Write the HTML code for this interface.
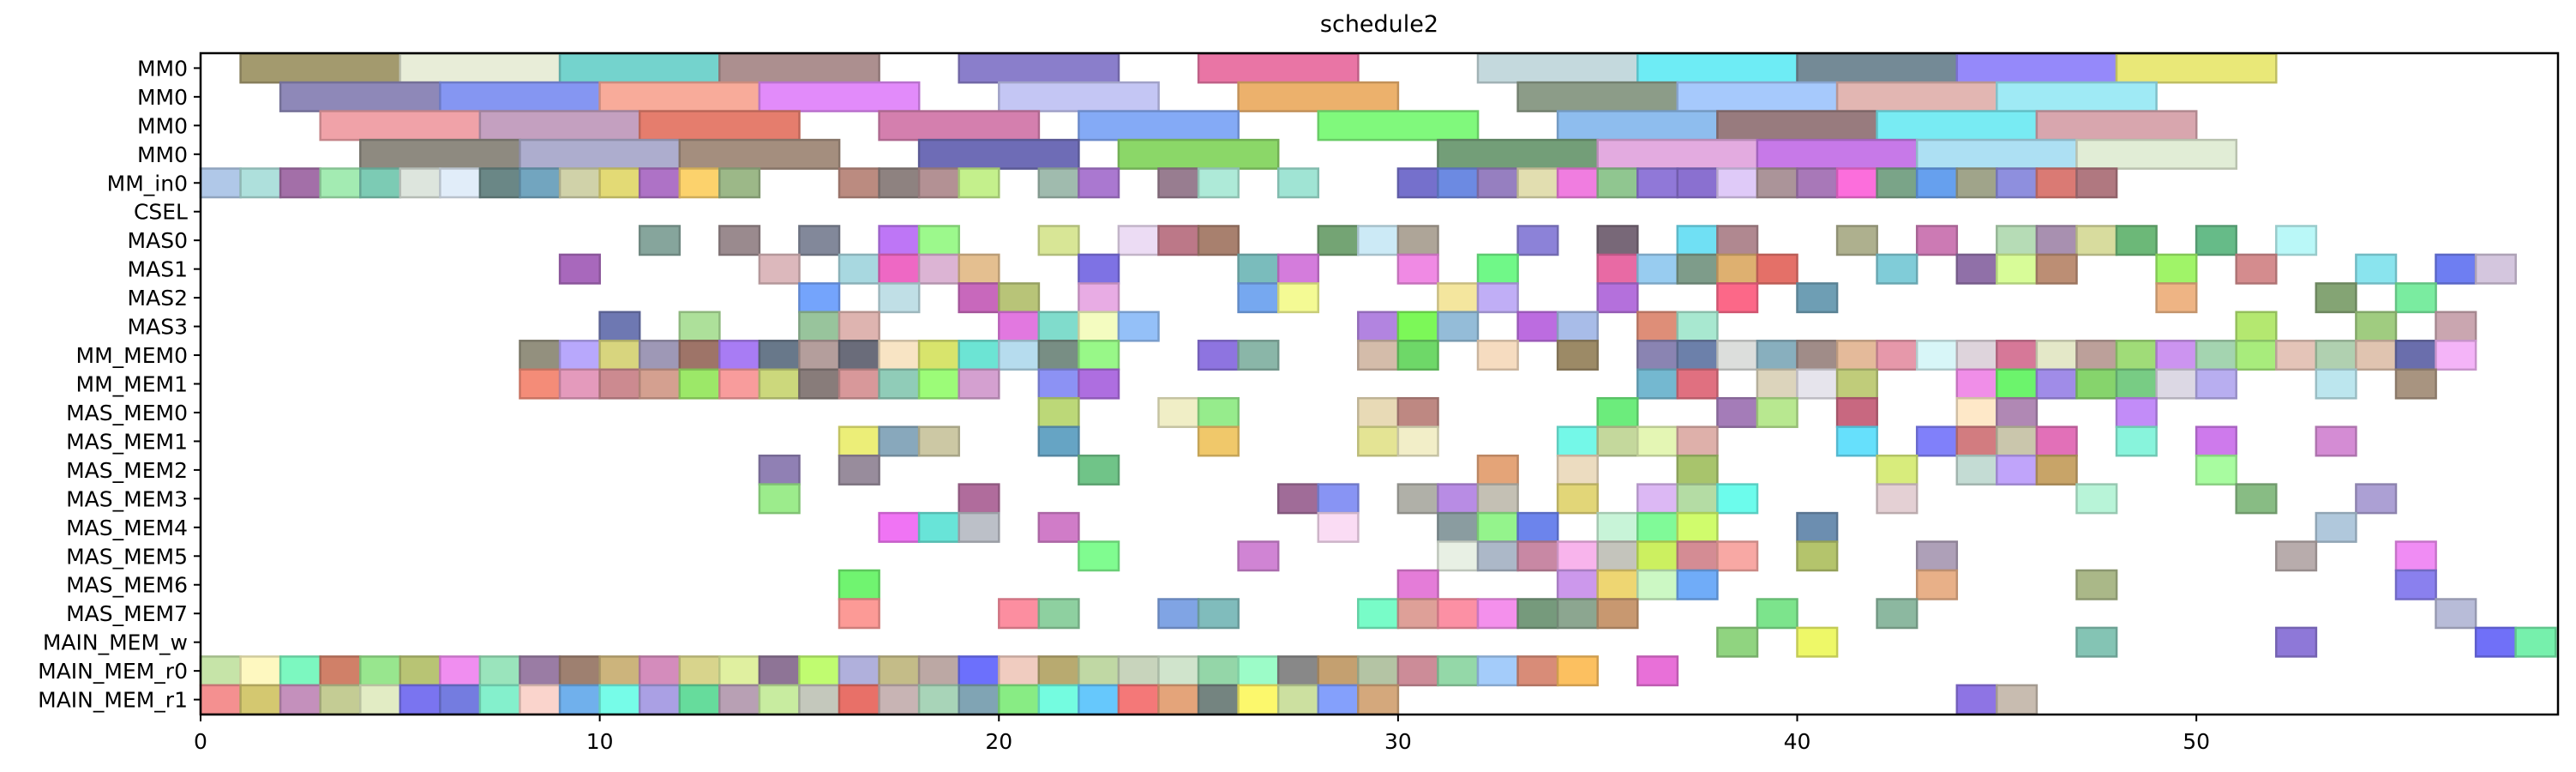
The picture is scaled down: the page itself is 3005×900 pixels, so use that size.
<!DOCTYPE html>
<html><head><meta charset="utf-8"><title>schedule2</title>
<style>html,body{margin:0;padding:0;background:#fff;}svg{display:block;font-family:"DejaVu Sans","Liberation Sans",sans-serif;}</style>
</head><body>
<svg id="chart" width="3005" height="900" viewBox="0 0 3005 900" xmlns="http://www.w3.org/2000/svg">
<text x="1609" y="37" font-size="27" text-anchor="middle">schedule2</text>
<g id="bars"></g>
<g id="axes"></g>
</svg>
<script>
const rowLabels = ["MM0","MM0","MM0","MM0","MM_in0","CSEL","MAS0","MAS1","MAS2","MAS3","MM_MEM0","MM_MEM1","MAS_MEM0","MAS_MEM1","MAS_MEM2","MAS_MEM3","MAS_MEM4","MAS_MEM5","MAS_MEM6","MAS_MEM7","MAIN_MEM_w","MAIN_MEM_r0","MAIN_MEM_r1"];
const xTicks = [0,10,20,30,40,50];
const rowDurations = [4,4,4,4,1,1,1,1,1,1,1,1,1,1,1,1,1,1,1,1,1,1,1];
const row0 = [[1,'#a39a6e'],[5,'#e8edd8'],[9,'#74d3cd'],[13,'#ac8f8f'],[19,'#8a7ecb'],[25,'#e975a5'],[32,'#c4d9dd'],[36,'#6eecf5'],[40,'#748a96'],[44,'#9589fa'],[48,'#e9e878']];
const row1 = [[2,'#8e88b8'],[6,'#8596f2'],[10,'#f8ab9a'],[14,'#e28bfa'],[20,'#c4c6f4'],[26,'#ecb16c'],[33,'#8c9c88'],[37,'#a6c9fc'],[41,'#e2b6b2'],[45,'#9feaf5']];
const row2 = [[3,'#f0a2a8'],[7,'#c4a0c0'],[11,'#e57d6d'],[17,'#d47fae'],[22,'#84aaf6'],[28,'#80f97c'],[34,'#8ebdee'],[38,'#987b7e'],[42,'#78ebf3'],[46,'#d8a6ae']];
const row3 = [[4,'#8e8a80'],[8,'#adadce'],[12,'#a48e7e'],[18,'#6e6cb6'],[23,'#8bd768'],[31,'#739e78'],[35,'#e3abe0'],[39,'#c779e8'],[43,'#ade0f3'],[47,'#e1edd6']];
const row4 = [[0,'#b0c8e8'],[1,'#aee0dc'],[2,'#a36fa8'],[3,'#a3ebb2'],[4,'#7ccbb4'],[5,'#dde5dd'],[6,'#e1edf9'],[7,'#6a8786'],[8,'#72a5bf'],[9,'#d0d2a9'],[10,'#e3da75'],[11,'#ae72c6'],[12,'#fcd26c'],[13,'#9cb888'],[16,'#bb8b80'],[17,'#8e8280'],[18,'#b39194'],[19,'#c4f08c'],[21,'#a0bbae'],[22,'#aa78d0'],[24,'#987d90'],[25,'#aeead8'],[27,'#a0e4d4'],[30,'#7570cc'],[31,'#6c8ae2'],[32,'#967fc0'],[33,'#e2deb0'],[34,'#f07de0'],[35,'#90c690'],[36,'#9078d8'],[37,'#8a70d0'],[38,'#dfcaf8'],[39,'#ab9499'],[40,'#a878b8'],[41,'#fc6edc'],[42,'#7aa488'],[43,'#66a0ee'],[44,'#a0a48a'],[45,'#8e8fde'],[46,'#da7a74'],[47,'#b07880']];
const row5 = [];
const row6 = [[11,'#86a59c'],[13,'#9a8a8e'],[15,'#82889a'],[17,'#be76f6'],[18,'#9cf98c'],[21,'#d8e696'],[23,'#ecdcf4'],[24,'#bc7888'],[25,'#a8806e'],[28,'#74a474'],[29,'#cceaf6'],[30,'#aea598'],[33,'#8c82d8'],[35,'#786878'],[37,'#70e0f4'],[38,'#b08890'],[41,'#aeb08e'],[43,'#cc7ab4'],[45,'#b6dcb6'],[46,'#a890b0'],[47,'#d8dc9e'],[48,'#6cb878'],[50,'#66bb88'],[52,'#baf8f8']];
const row7 = [[9,'#a868bc'],[14,'#dcb8bc'],[16,'#a8d8e0'],[17,'#ee68c4'],[18,'#dcb4d4'],[19,'#e4bf90'],[22,'#7e72e4'],[26,'#7abcbc'],[27,'#d47cdc'],[30,'#f08ae4'],[32,'#70f888'],[35,'#e86aa4'],[36,'#98ccf0'],[37,'#7e9c8a'],[38,'#deb070'],[39,'#e47068'],[42,'#80ccd8'],[44,'#9070a8'],[45,'#d8fc98'],[46,'#bc8e74'],[49,'#a0f468'],[51,'#d48c8e'],[54,'#8ae4ee'],[56,'#6e7ef2'],[57,'#d4c6de']];
const row8 = [[15,'#74a4fc'],[17,'#c0dfe6'],[19,'#c868bc'],[20,'#b8c478'],[22,'#e8ace4'],[26,'#76a8f0'],[27,'#f4fa94'],[31,'#f4e69e'],[32,'#c0aef6'],[35,'#b470dc'],[38,'#fc6888'],[40,'#6e9eb4'],[49,'#eeb484'],[53,'#84a474'],[55,'#7aeca0']];
const row9 = [[10,'#6e78b2'],[12,'#ade09a'],[15,'#98c49c'],[16,'#deb4b0'],[20,'#e278e0'],[21,'#80dccc'],[22,'#f4fcc0'],[23,'#94c0f8'],[29,'#b284e0'],[30,'#7cf858'],[31,'#94bcd8'],[33,'#bc6ce0'],[34,'#a8bce8'],[36,'#de8e78'],[37,'#a8e8d0'],[51,'#b4e870'],[54,'#a0cc80'],[56,'#caa6b0']];
const row10 = [[8,'#93907e'],[9,'#b8a8fc'],[10,'#d8d57e'],[11,'#9e98b6'],[12,'#9e7468'],[13,'#a87cf4'],[14,'#68788a'],[15,'#b49e9c'],[16,'#6a6c7a'],[17,'#f8e4c4'],[18,'#d8e46c'],[19,'#6ce4d4'],[20,'#b6dcee'],[21,'#788e84'],[22,'#98f888'],[25,'#8e74e0'],[26,'#8ab6a8'],[29,'#d4bcaa'],[30,'#6ed868'],[32,'#f6dcc0'],[34,'#9c8a66'],[36,'#8a84b2'],[37,'#6c80aa'],[38,'#dcdedc'],[39,'#88afbe'],[40,'#a08c88'],[41,'#e4ba9a'],[42,'#e698aa'],[43,'#d8f6f8'],[44,'#ded4dc'],[45,'#d67898'],[46,'#e4e8c8'],[47,'#bca09a'],[48,'#a0dc78'],[49,'#cc94f0'],[50,'#a4d4b0'],[51,'#a8ec7c'],[52,'#e4c4b8'],[53,'#b0d0b0'],[54,'#e0c4b0'],[55,'#6a6eac'],[56,'#f4b4f8']];
const row11 = [[8,'#f48c78'],[9,'#e49abc'],[10,'#cc8a90'],[11,'#d4a090'],[12,'#9ce868'],[13,'#f89c9c'],[14,'#ccd87c'],[15,'#887c7a'],[16,'#d8989a'],[17,'#90ccb8'],[18,'#9cfc78'],[19,'#d4a0d0'],[21,'#8c92f4'],[22,'#ae6ee0'],[36,'#74b8d0'],[37,'#e07080'],[39,'#dcd4bc'],[40,'#e6e4ec'],[41,'#c0cc7a'],[44,'#f08ee8'],[45,'#6cf46c'],[46,'#a08ce8'],[47,'#86d46c'],[48,'#78cc84'],[49,'#dcd8e4'],[50,'#b8aef0'],[53,'#bce6ee'],[55,'#a89480']];
const row12 = [[21,'#bcd878'],[24,'#f0eec6'],[25,'#96ec8c'],[29,'#e8dab6'],[30,'#be8882'],[35,'#6cec7c'],[38,'#a47cb8'],[39,'#b8e890'],[41,'#c86880'],[44,'#fee8c8'],[45,'#b088b4'],[48,'#c28cf8']];
const row13 = [[16,'#ecee78'],[17,'#88a8bc'],[18,'#ccc8a4'],[21,'#66a4c4'],[25,'#f0c86a'],[29,'#e4e494'],[30,'#f2eec8'],[34,'#74f8e8'],[35,'#c4d89c'],[36,'#e4f6b4'],[37,'#deb0aa'],[41,'#66e0fc'],[43,'#8080fa'],[44,'#d27c80'],[45,'#cac6ac'],[46,'#e270b8'],[48,'#88f4dc'],[50,'#ce7aec'],[53,'#d48cd4']];
const row14 = [[14,'#9080b4'],[16,'#988c9c'],[22,'#70c488'],[32,'#e4a478'],[34,'#ecdcc0'],[37,'#a8c46c'],[42,'#d8ec7c'],[44,'#c4dcd4'],[45,'#c0a4fa'],[46,'#c8a468'],[50,'#a8fca0']];
const row15 = [[14,'#9cec8c'],[19,'#b06c9c'],[27,'#a06c98'],[28,'#8894f4'],[30,'#b0b0a8'],[31,'#b88ce4'],[32,'#c4c0b4'],[34,'#e2d678'],[36,'#dcb8f4'],[37,'#b4dca4'],[38,'#6cfcec'],[42,'#e4d0d4'],[47,'#b8f4d8'],[51,'#88bc84'],[54,'#aca0d4']];
const row16 = [[17,'#f074f4'],[18,'#68e4d8'],[19,'#bcc0c8'],[21,'#d07cc8'],[28,'#fadcf4'],[31,'#8a9ca0'],[32,'#94f48c'],[33,'#6c84ec'],[35,'#c8f4d8'],[36,'#80fa98'],[37,'#d0fc6c'],[40,'#6c8eb0'],[53,'#b0c8dc']];
const row17 = [[22,'#80fc90'],[26,'#d084d4'],[31,'#e8f0e4'],[32,'#acb8c8'],[33,'#c888a4'],[34,'#f8b4ec'],[35,'#c4c4bc'],[36,'#ccf060'],[37,'#d48c94'],[38,'#f8a8a4'],[40,'#b4c46c'],[43,'#aea0b8'],[52,'#b8acac'],[55,'#f08cf4']];
const row18 = [[16,'#70f470'],[30,'#e47cd8'],[34,'#cc98ec'],[35,'#eed672'],[36,'#ccf8c4'],[37,'#70acf8'],[43,'#e8b088'],[47,'#aab888'],[55,'#8a80ee']];
const row19 = [[16,'#fc9a96'],[20,'#fc8ea0'],[21,'#8ed0a0'],[24,'#80a4e4'],[25,'#80bcbc'],[29,'#78fcc8'],[30,'#dea098'],[31,'#fc90a4'],[32,'#f490ec'],[33,'#769a7c'],[34,'#8ca690'],[35,'#c89870'],[39,'#7ce48c'],[42,'#8cb8a0'],[56,'#b8bcd8']];
const row20 = [[38,'#90d480'],[40,'#eef868'],[47,'#84c4b4'],[52,'#8e78d8'],[57,'#7070f8'],[58,'#76f0ac']];
const row21 = [[0,'#c6e4a8'],[1,'#fef8c0'],[2,'#7cf8c0'],[3,'#d08068'],[4,'#98e68e'],[5,'#b8c474'],[6,'#f08ef0'],[7,'#9ae4bc'],[8,'#9a7ca4'],[9,'#9e8070'],[10,'#ccb47c'],[11,'#d48cbc'],[12,'#d8d48c'],[13,'#e0f0a0'],[14,'#8e7496'],[15,'#c0fc70'],[16,'#b0b0dc'],[17,'#c4bc88'],[18,'#bca8a4'],[19,'#6c70fc'],[20,'#f0ccc0'],[21,'#b8aa70'],[22,'#c0d8a4'],[23,'#c8d4bc'],[24,'#d0e4cc'],[25,'#94d6a8'],[26,'#9cfcc8'],[27,'#888888'],[28,'#c4a070'],[29,'#b4c4a4'],[30,'#cc8c98'],[31,'#94d8a8'],[32,'#a4ccfa'],[33,'#d88c78'],[34,'#fcc060'],[36,'#e870d8']];
const row22 = [[0,'#f49090'],[1,'#d4c870'],[2,'#c490bc'],[3,'#c4cc94'],[4,'#e2ecc4'],[5,'#7a74f0'],[6,'#747ce0'],[7,'#84f0cc'],[8,'#fad4cc'],[9,'#70b0ec'],[10,'#76fce8'],[11,'#aaa0e4'],[12,'#66dc9c'],[13,'#b8a0b4'],[14,'#c8eca0'],[15,'#c4c8bc'],[16,'#e87068'],[17,'#c8b4b4'],[18,'#a8d4b8'],[19,'#80a4b4'],[20,'#88ec84'],[21,'#74fce0'],[22,'#66c8fc'],[23,'#f47878'],[24,'#e4a47a'],[25,'#748480'],[26,'#fcf86c'],[27,'#cce0a0'],[28,'#84a0fc'],[29,'#d4a87c'],[44,'#8e74e4'],[45,'#c8bcb0']];
const allRows = [row0,row1,row2,row3,row4,row5,row6,row7,row8,row9,row10,row11,row12,row13,row14,row15,row16,row17,row18,row19,row20,row21,row22];

const NS = 'http://www.w3.org/2000/svg';
const L = 234, R = 2984, T = 62, B = 833;
const XMIN = 0, XMAX = 59.06, YMIN = -0.52, YMAX = 22.52;
function xs(v){ return L + (v - XMIN) / (XMAX - XMIN) * (R - L); }
function ys(v){ return T + (v - YMIN) / (YMAX - YMIN) * (B - T); }
function darken(hex, f){
  const n = parseInt(hex.slice(1), 16);
  const r = Math.round(((n >> 16) & 255) * f), g = Math.round(((n >> 8) & 255) * f), b = Math.round((n & 255) * f);
  return 'rgb(' + r + ',' + g + ',' + b + ')';
}
const barsG = document.getElementById('bars');
allRows.forEach(function(row, ri){
  row.forEach(function(task){
    const x1 = xs(task[0]), x2 = xs(task[0] + rowDurations[ri]);
    const y1 = ys(ri - 0.5), y2 = ys(ri + 0.5);
    const r = document.createElementNS(NS, 'rect');
    r.setAttribute('x', x1.toFixed(1));
    r.setAttribute('y', y1.toFixed(1));
    r.setAttribute('width', (x2 - x1).toFixed(1));
    r.setAttribute('height', (y2 - y1).toFixed(1));
    r.setAttribute('fill', task[1]);
    r.setAttribute('stroke', darken(task[1], 0.82));
    r.setAttribute('stroke-width', '2.5');
    
    
    barsG.appendChild(r);
  });
});
const axesG = document.getElementById('axes');
const frame = document.createElementNS(NS, 'rect');
frame.setAttribute('x', L); frame.setAttribute('y', T);
frame.setAttribute('width', R - L); frame.setAttribute('height', B - T);
frame.setAttribute('fill', 'none'); frame.setAttribute('stroke', '#000'); frame.setAttribute('stroke-width', '2.5');


axesG.appendChild(frame);
rowLabels.forEach(function(lab, i){
  const y = ys(i);
  const tk = document.createElementNS(NS, 'line');
  tk.setAttribute('x1', L - 8); tk.setAttribute('x2', L); tk.setAttribute('y1', y); tk.setAttribute('y2', y);
  tk.setAttribute('stroke', '#000'); tk.setAttribute('stroke-width', '2');
  
  
  axesG.appendChild(tk);
  const t = document.createElementNS(NS, 'text');
  t.setAttribute('x', L - 15); t.setAttribute('y', y + 9);
  t.setAttribute('font-size', '25'); t.setAttribute('text-anchor', 'end');
  t.textContent = lab;
  
  
  axesG.appendChild(t);
});
xTicks.forEach(function(v){
  const x = xs(v);
  const tk = document.createElementNS(NS, 'line');
  tk.setAttribute('x1', x); tk.setAttribute('x2', x); tk.setAttribute('y1', B); tk.setAttribute('y2', B + 8);
  tk.setAttribute('stroke', '#000'); tk.setAttribute('stroke-width', '2');
  
  
  axesG.appendChild(tk);
  const t = document.createElementNS(NS, 'text');
  t.setAttribute('x', x); t.setAttribute('y', B + 40);
  t.setAttribute('font-size', '25'); t.setAttribute('text-anchor', 'middle');
  t.textContent = String(v);
  
  
  axesG.appendChild(t);
});
</script>
</body></html>
